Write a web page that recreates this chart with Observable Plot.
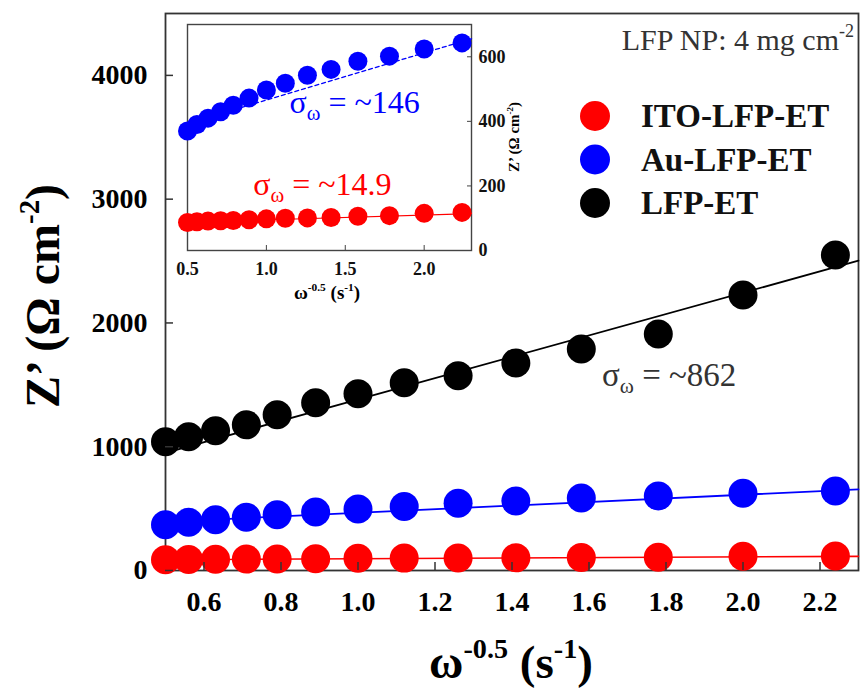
<!DOCTYPE html>
<html>
<head>
<meta charset="utf-8">
<script src="https://cdn.jsdelivr.net/npm/d3@7"></script>
<script src="https://cdn.jsdelivr.net/npm/@observablehq/plot@0.6"></script>
<style>
  body { margin: 0; background: #fff; }
  #fig { position: relative; width: 861px; height: 691px; overflow: hidden; background: #fff; }
  #fig svg { position: absolute; }
</style>
</head>
<body>
<div id="fig"></div>
<script>
// ω^-0.5 (s^-1) for each measured frequency
const omegaInvSqrt = [0.50, 0.56, 0.63, 0.71, 0.79, 0.89, 1.00, 1.12, 1.26, 1.41, 1.58, 1.78, 2.00, 2.24];

// Z' (Ω cm^-2) of each electrode
const zITO = [87, 89, 91, 92, 93, 95, 98, 100, 101, 102, 106, 108, 115, 118];
const zAu  = [370, 390, 410, 430, 450, 472, 497, 518, 543, 561, 586, 602, 624, 643];
const zLFP = [1040, 1081, 1129, 1177, 1258, 1355, 1427, 1516, 1573, 1677, 1790, 1911, 2226, 2548];

const seriesNames  = ["ITO-LFP-ET", "Au-LFP-ET", "LFP-ET"];
const seriesColors = ["#ff0000", "#0000ff", "#000000"];

// Warburg coefficient σω (slope) and intercept of each linear fit
const fitSlopes     = [14.9, 146, 862];
const fitIntercepts = [80, 320, 520];
const fitLabels     = ["~14.9", "~146", "~862"];

const mainXTicks  = [0.6, 0.8, 1.0, 1.2, 1.4, 1.6, 1.8, 2.0, 2.2];
const mainYTicks  = [0, 1000, 2000, 3000, 4000];
const insetXTicks = [0.5, 1.0, 1.5, 2.0];
const insetYTicks = [0, 200, 400, 600];

const FONT = "'Liberation Serif', 'DejaVu Serif', 'Times New Roman', serif";

// long table of points
const allSeries = [zITO, zAu, zLFP];
const points = allSeries.flatMap((ys, i) =>
  ys.map((z, j) => ({x: omegaInvSqrt[j], z, series: seriesNames[i], color: seriesColors[i]})));

const xFitRange = [0.5, 2.3];
const fits = fitSlopes.flatMap((s, i) =>
  xFitRange.map(x => ({x, z: s * x + fitIntercepts[i], series: seriesNames[i], color: seriesColors[i]})));

const sel = (name) => (d) => d.series === name;

// ---------- main panel ----------
const main = Plot.plot({
  width: 861,
  height: 691,
  marginLeft: 165,
  marginRight: 3,
  marginTop: 13,
  marginBottom: 121,
  x: {domain: [0.5, 2.3]},
  y: {domain: [0, 4500]},
  style: {fontFamily: FONT, background: "transparent", overflow: "visible"},
  marks: [
    Plot.frame({stroke: "#333", strokeWidth: 1.8}),
    Plot.line(fits.filter(sel("ITO-LFP-ET")), {x: "x", y: "z", stroke: "#ff0000", strokeWidth: 1.6}),
    Plot.line(fits.filter(sel("Au-LFP-ET")), {x: "x", y: "z", stroke: "#0000ff", strokeWidth: 1.8}),
    Plot.line(fits.filter(sel("LFP-ET")), {x: "x", y: "z", stroke: "#000", strokeWidth: 1.8}),
    Plot.dot(points, {x: "x", y: "z", r: 14.5, fill: "color", stroke: null}),
    Plot.axisX({ticks: mainXTicks, tickSize: -8, tickFormat: () => "", label: null, stroke: "#333", strokeWidth: 1.5}),
    Plot.axisX({ticks: mainXTicks, tickSize: 0, tickPadding: 21, tickFormat: d3.format(".1f"),
      label: null, fontSize: 28, fontWeight: "bold", fill: "#000"}),
    Plot.axisY({ticks: mainYTicks, tickSize: -8, tickFormat: () => "", label: null, stroke: "#333", strokeWidth: 1.5}),
    Plot.axisY({ticks: mainYTicks, tickSize: 0, tickPadding: 18, tickFormat: d3.format("d"),
      label: null, fontSize: 28, fontWeight: "bold", fill: "#000"})
  ]
});
main.style.left = "0px";
main.style.top = "0px";

// ---------- inset panel ----------
const inset = Plot.plot({
  width: 354,
  height: 291,
  marginLeft: 10,
  marginRight: 60,
  marginTop: 5,
  marginBottom: 60,
  x: {domain: [0.5, 2.3]},
  y: {domain: [0, 700]},
  style: {fontFamily: FONT, background: "transparent", overflow: "visible"},
  marks: [
    Plot.frame({fill: "#fff", stroke: "#444", strokeWidth: 1.4}),
    Plot.line(fits.filter(sel("ITO-LFP-ET")), {x: "x", y: "z", stroke: "#ff0000", strokeWidth: 1.2}),
    Plot.line(fits.filter(sel("Au-LFP-ET")), {x: "x", y: "z", stroke: "#0000ff", strokeWidth: 1.3, strokeDasharray: "4,3"}),
    Plot.dot(points.filter(d => d.series !== "LFP-ET"), {x: "x", y: "z", r: 9.5, fill: "color", stroke: null}),
    Plot.axisX({ticks: insetXTicks, tickSize: -5, tickFormat: () => "", label: null, stroke: "#444"}),
    Plot.axisX({ticks: insetXTicks, tickSize: 0, tickPadding: 12, tickFormat: d3.format(".1f"),
      label: null, fontSize: 18, fontWeight: "bold", fill: "#111"}),
    Plot.axisY({anchor: "right", ticks: insetYTicks, tickSize: -5, tickFormat: () => "", label: null, stroke: "#444"}),
    Plot.axisY({anchor: "right", ticks: insetYTicks, tickSize: 0, tickPadding: 7, tickFormat: d3.format("d"),
      label: null, fontSize: 18, fontWeight: "bold", fill: "#111"})
  ]
});
inset.style.left = "177px";
inset.style.top = "19px";

const fig = document.getElementById("fig");
fig.appendChild(main);
fig.appendChild(inset);

// text with super/subscript runs
function richText(parent, x, y, parts, {size, weight = "normal", fill = "#000", anchor = "start", rotate = 0}) {
  const t = d3.select(parent).append("text")
    .attr("transform", `translate(${x},${y}) rotate(${rotate})`)
    .attr("text-anchor", anchor)
    .attr("font-family", FONT)
    .attr("font-size", size)
    .attr("font-weight", weight)
    .attr("fill", fill);
  let shift = 0;
  for (const p of parts) {
    const target = p.sup ? -0.42 * size : p.sub ? 0.22 * size : 0;
    const s = t.append("tspan").text(p.t).attr("dy", target - shift);
    if (p.sup || p.sub) s.attr("font-size", size * (p.scale || 0.6));
    shift = target;
  }
  return t;
}

// axis titles
richText(main, 59, 296, [{t: "Z’ (Ω cm"}, {t: "-2", sup: true}, {t: ")"}],
  {size: 48, weight: "bold", anchor: "middle", rotate: -90});
richText(main, 511, 678, [{t: "ω"}, {t: "-0.5", sup: true}, {t: " (s"}, {t: "-1", sup: true}, {t: ")"}],
  {size: 47, weight: "bold", anchor: "middle"});
richText(inset, 342, 118, [{t: "Z’ (Ω cm"}, {t: "-2", sup: true}, {t: ")"}],
  {size: 15, weight: "bold", anchor: "middle", rotate: -90});
richText(inset, 150, 280, [{t: "ω"}, {t: "-0.5", sup: true}, {t: " (s"}, {t: "-1", sup: true}, {t: ")"}],
  {size: 19, weight: "bold", anchor: "middle"});

// loading note
richText(main, 854, 50, [{t: "LFP NP: 4 mg cm"}, {t: "-2", sup: true}],
  {size: 30, fill: "#333", anchor: "end"});

// legend
const legendG = d3.select(main).append("g").attr("text-anchor", "start");
seriesNames.forEach((name, i) => {
  const cy = 116 + i * 43.5;
  legendG.append("circle").attr("cx", 595).attr("cy", cy).attr("r", 15).attr("fill", seriesColors[i]);
  legendG.append("text").attr("x", 641).attr("y", cy + 11)
    .attr("text-anchor", "start")
    .attr("font-family", FONT).attr("font-size", 33).attr("font-weight", "bold")
    .attr("fill", "#111").text(name);
});

// σω annotations, anchored in data space
const mx = main.scale("x"), my = main.scale("y");
const ix = inset.scale("x"), iy = inset.scale("y");
const sigmaParts = (v) => [{t: "σ"}, {t: "ω", sub: true, scale: 0.65}, {t: " = " + v}];
richText(inset, ix.apply(0.92), iy.apply(170), sigmaParts(fitLabels[0]), {size: 32, fill: "#ff0000"});
richText(inset, ix.apply(1.15), iy.apply(425), sigmaParts(fitLabels[1]), {size: 32, fill: "#0000ff"});
richText(main, mx.apply(1.635), my.apply(1490), sigmaParts(fitLabels[2]), {size: 33, fill: "#333"});
</script>
</body>
</html>
